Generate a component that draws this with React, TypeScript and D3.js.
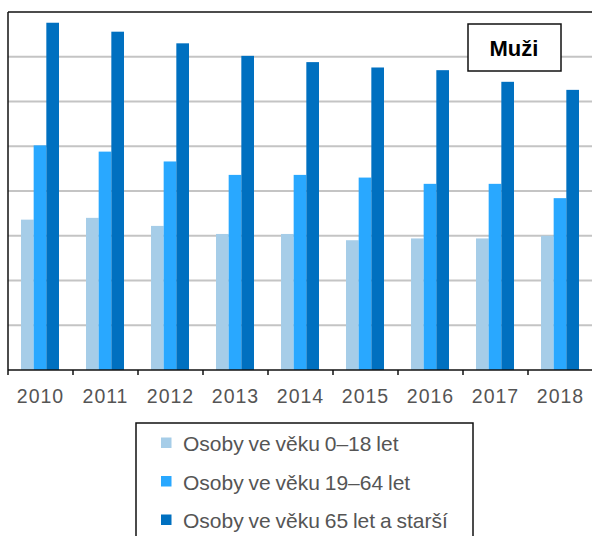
import React, { useRef, useEffect } from 'react';
import * as d3 from 'd3';

const YEARS = ['2010', '2011', '2012', '2013', '2014', '2015', '2016', '2017', '2018'];
const SERIES = ['Osoby ve věku 0–18 let', 'Osoby ve věku 19–64 let', 'Osoby ve věku 65 let a starší'];
const COLORS = ['#a6cde8', '#29a8ff', '#0070c0'];
const AGE_0_18 = [16.8, 17.0, 16.1, 15.2, 15.2, 14.5, 14.7, 14.7, 15.0];
const AGE_19_64 = [25.1, 24.4, 23.3, 21.8, 21.8, 21.5, 20.8, 20.8, 19.2];
const AGE_65 = [38.8, 37.8, 36.5, 35.1, 34.4, 33.8, 33.5, 32.2, 31.3];
const GRID_TICKS = [5, 10, 15, 20, 25, 30, 35];

function App() {
  const ref = useRef<SVGSVGElement>(null);

  useEffect(() => {
    const svg = d3.select(ref.current);
    svg.selectAll('*').remove();

    const left = 8;
    const top = 12;
    const bottom = 370;
    const values = [AGE_0_18, AGE_19_64, AGE_65];

    const x = d3.scaleBand().domain(YEARS).range([left, left + 65 * YEARS.length]);
    const x1 = d3.scaleBand().domain(SERIES).range([13, 51]);
    const y = d3.scaleLinear().domain([0, 40]).range([bottom, top]);

    // mřížka
    svg.append('g')
      .selectAll('line')
      .data(GRID_TICKS)
      .enter()
      .append('line')
      .attr('x1', left)
      .attr('x2', 592)
      .attr('y1', d => y(d))
      .attr('y2', d => y(d))
      .attr('stroke', '#c4c4c4')
      .attr('stroke-width', 2);

    // sloupce
    values.forEach((vals, s) => {
      svg.append('g')
        .selectAll('rect')
        .data(vals)
        .enter()
        .append('rect')
        .attr('x', (d, i) => (x(YEARS[i]) as number) + (x1(SERIES[s]) as number))
        .attr('y', d => y(d))
        .attr('width', x1.bandwidth())
        .attr('height', d => bottom - y(d))
        .attr('fill', COLORS[s]);
    });

    // rámeček
    svg.append('line')
      .attr('x1', left).attr('x2', 592)
      .attr('y1', top).attr('y2', top)
      .attr('stroke', '#111').attr('stroke-width', 1.5);
    svg.append('line')
      .attr('x1', left).attr('x2', left)
      .attr('y1', top).attr('y2', bottom)
      .attr('stroke', '#111').attr('stroke-width', 1.5);

    // osa x
    const axis = svg.append('g').attr('transform', `translate(0, ${bottom})`);
    axis.append('line')
      .attr('x1', left).attr('x2', 592)
      .attr('stroke', '#111').attr('stroke-width', 1.5);
    axis.selectAll('.tick')
      .data(YEARS)
      .enter()
      .append('line')
      .attr('x1', d => x(d) as number)
      .attr('x2', d => x(d) as number)
      .attr('y1', 0)
      .attr('y2', 5)
      .attr('stroke', '#111').attr('stroke-width', 1.5);
    axis.selectAll('text')
      .data(YEARS)
      .enter()
      .append('text')
      .attr('x', d => (x(d) as number) + x.bandwidth() / 2)
      .attr('y', 33)
      .attr('text-anchor', 'middle')
      .attr('fill', '#555')
      .style('font-family', 'Liberation Sans, Arial, sans-serif')
      .style('font-size', '19.5px')
      .style('letter-spacing', '1px')
      .text(d => d);

    // popisek Muži
    const tag = svg.append('g');
    tag.append('rect')
      .attr('x', 468).attr('y', 24)
      .attr('width', 93).attr('height', 47)
      .attr('fill', '#fff').attr('stroke', '#111').attr('stroke-width', 1.5);
    tag.append('text')
      .attr('x', 514).attr('y', 55.5)
      .attr('text-anchor', 'middle')
      .style('font-family', 'Liberation Sans, Arial, sans-serif')
      .style('font-size', '22px')
      .style('font-weight', 'bold')
      .attr('fill', '#000')
      .text('Muži');

    // legenda
    const legend = svg.append('g');
    legend.append('rect')
      .attr('x', 136).attr('y', 423)
      .attr('width', 337).attr('height', 130)
      .attr('fill', '#fff').attr('stroke', '#111').attr('stroke-width', 1.5);
    SERIES.forEach((label, i) => {
      const row = legend.append('g').attr('transform', `translate(161, ${442.5 + i * 38.5})`);
      row.append('rect')
        .attr('x', 0).attr('y', -5)
        .attr('width', 10.5).attr('height', 10.5)
        .attr('fill', COLORS[i]);
      row.append('text')
        .attr('x', 22).attr('y', 8.5)
        .attr('fill', '#555')
        .style('font-family', 'Liberation Sans, Arial, sans-serif')
        .style('font-size', '21px')
        .style('word-spacing', '-1px')
        .text(label);
    });
  }, []);

  return (
    <svg
      ref={ref}
      width={592}
      height={536}
      style={{ position: 'absolute', left: 0, top: 0, background: '#fff' }}
    />
  );
}

export default App;
